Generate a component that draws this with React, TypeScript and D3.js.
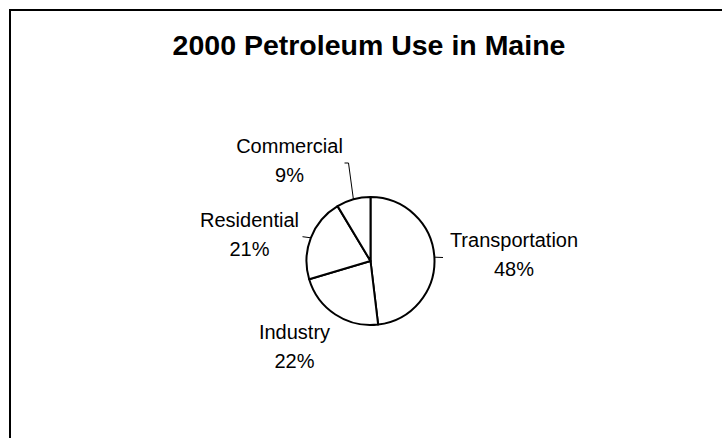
import React from "react";
import * as d3 from "d3";

const title = "2000 Petroleum Use in Maine";
const categories = ["Transportation", "Industry", "Residential", "Commercial"];
const shares = [48.1, 22.3, 21.0, 8.6];

// label layout: centre x, first baseline, and leader end points
const labelPos: { x: number; y: number; leader: [number, number][] }[] = [
  { x: 514, y: 247, leader: [[443, 257.5]] },
  { x: 294.5, y: 338.5, leader: [] },
  { x: 249.5, y: 227.3, leader: [[302.5, 236.7]] },
  { x: 289.5, y: 153.3, leader: [[348.5, 163], [344.5, 163]] },
];

const W = 722;
const H = 438;
const cx = 370.5;
const cy = 261;
const r = 64;
const font = "'Liberation Sans', Arial, sans-serif";

const App = () => {
  const pie = d3
    .pie<number>()
    .sort(null)
    .value((d) => d)
    .startAngle(0)
    .endAngle(2 * Math.PI);
  const arcs = pie(shares);
  const arc = d3.arc<d3.PieArcDatum<number>>().innerRadius(0).outerRadius(r);
  const rim = d3.arc<d3.PieArcDatum<number>>().innerRadius(r).outerRadius(r);
  const line = d3.line();
  const total = d3.sum(shares);

  return (
    <svg
      width={W}
      height={H}
      style={{ position: "absolute", left: 0, top: 0, background: "#fff" }}
    >
      <rect x={10} y={10} width={W + 40} height={H + 40} fill="#fff" stroke="#000" strokeWidth={2} />
      <text
        x={369}
        y={55}
        textAnchor="middle"
        fontFamily={font}
        fontWeight="bold"
        fontSize={28.5}
        fill="#000"
      >
        {title}
      </text>
      <g transform={`translate(${cx},${cy})`}>
        {arcs.map((a, i) => (
          <path key={i} d={arc(a) || ""} fill="#fff" stroke="#000" strokeWidth={2} strokeLinejoin="round" />
        ))}
      </g>
      {arcs.map((a, i) => {
        const lp = labelPos[i];
        if (!lp.leader.length) return null;
        const [px, py] = rim.centroid(a);
        const pts: [number, number][] = [[cx + px, cy + py], ...lp.leader];
        return <path key={i} d={line(pts) || ""} fill="none" stroke="#000" strokeWidth={1} />;
      })}
      {categories.map((c, i) => {
        const lp = labelPos[i];
        return (
          <text key={c} textAnchor="middle" fontFamily={font} fontSize={20} fill="#000">
            <tspan x={lp.x} y={lp.y}>
              {c}
            </tspan>
            <tspan x={lp.x} y={lp.y + 29}>
              {Math.round((shares[i] / total) * 100)}%
            </tspan>
          </text>
        );
      })}
    </svg>
  );
};

export default App;
